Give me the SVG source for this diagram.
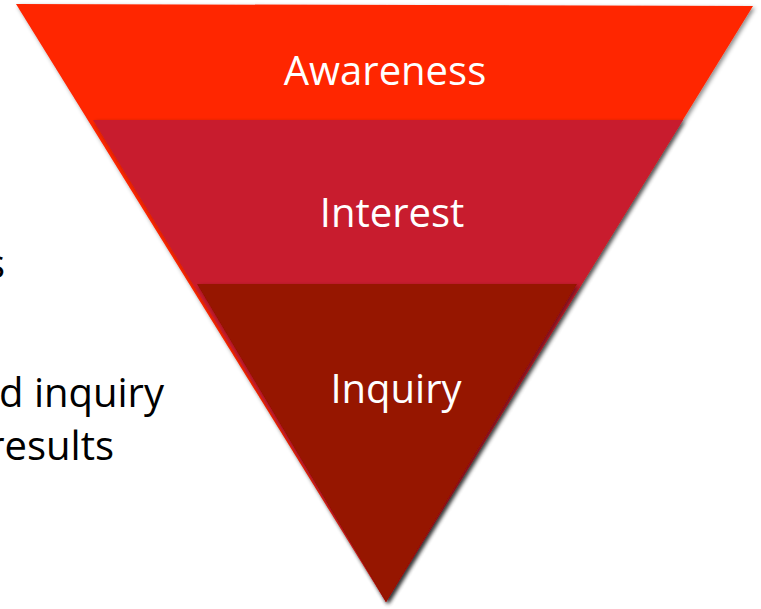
<svg xmlns="http://www.w3.org/2000/svg" width="761" height="609" viewBox="0 0 761 609">
  <defs>
    <filter id="shadow" x="-10%" y="-10%" width="120%" height="120%">
      <feDropShadow dx="2" dy="2" stdDeviation="2" flood-color="#000" flood-opacity="0.45"/>
    </filter>
  </defs>
  <style>
    .label { font-family: "Open Sans", "Liberation Sans", sans-serif; font-size: 40px; fill: #ffffff; text-anchor: middle; }
    .side { font-family: "Open Sans", "Liberation Sans", sans-serif; font-size: 40px; fill: #000000; text-anchor: end; }
    .stage { filter: url(#shadow); }
  </style>
  <rect x="0" y="0" width="761" height="609" fill="#ffffff"/>
  <g id="side-text">
    <text class="side" x="5" y="278">s</text>
    <text class="side" x="164" y="407">d inquiry</text>
    <text class="side" x="114" y="460">results</text>
  </g>
  <g id="awareness">
    <polygon class="stage" points="16,4 753,6 386,602" fill="#ff2500"/>
  </g>
  <g id="interest">
    <polygon class="stage" points="93,120 683,120 386,602" fill="#c81e2d"/>
  </g>
  <g id="inquiry">
    <polygon class="stage" points="197,284 577,284 386,602" fill="#961200"/>
  </g>
  <g id="labels">
    <text class="label" x="385" y="85">Awareness</text>
    <text class="label" x="392" y="227">Interest</text>
    <text class="label" x="396" y="403">Inquiry</text>
  </g>
  <g id="connectors"/>
</svg>
